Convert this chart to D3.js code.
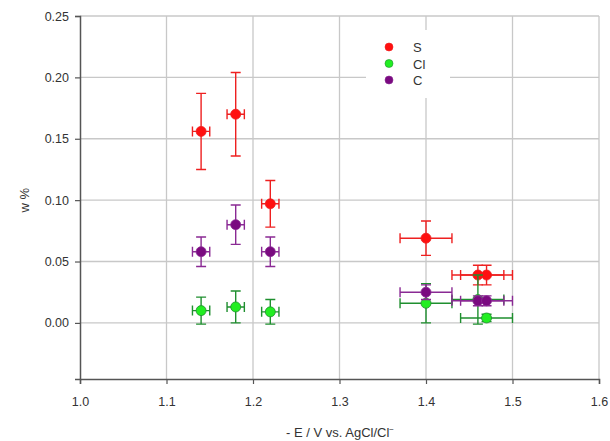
<!DOCTYPE html>
<html lang="en">
<head>
	<meta charset="UTF-8"/>
	<title>w % vs potential</title>
	<script src="https://d3js.org/d3.v7.min.js"></script>
	<style>
		body { margin: 0; background: #fff; }
		text { font-family: "Liberation Sans", Arial, sans-serif; fill: #333; }
	</style>
</head>
<body>
<script>
	// ***Data***
	var seriesNames = ["S", "Cl", "C"];
	var potentialS  = [1.14, 1.18, 1.22, 1.40, 1.46, 1.47];
	var wS          = [0.156, 0.170, 0.097, 0.069, 0.039, 0.039];
	var wErrS       = [0.031, 0.034, 0.019, 0.014, 0.008, 0.008];
	var potentialCl = [1.14, 1.18, 1.22, 1.40, 1.46, 1.47];
	var wCl         = [0.010, 0.013, 0.009, 0.016, 0.019, 0.004];
	var wErrCl      = [0.011, 0.013, 0.010, 0.016, 0.020, 0.003];
	var potentialC  = [1.14, 1.18, 1.22, 1.40, 1.46, 1.47];
	var wC          = [0.058, 0.080, 0.058, 0.025, 0.018, 0.018];
	var wErrC       = [0.012, 0.016, 0.012, 0.006, 0.004, 0.004];
	var eErr        = [0.01, 0.01, 0.01, 0.03, 0.03, 0.03];
	var xTicks = [1.0, 1.1, 1.2, 1.3, 1.4, 1.5, 1.6];
	var yTicks = [0.00, 0.05, 0.10, 0.15, 0.20, 0.25];

	var w = 610, h = 441;
	var padL = 80, padR = 599, padT = 16, padB = 379;
	var colors = {
		S:  {fill: "#ff1010", bar: "#ee2020"},
		Cl: {fill: "#22ee22", bar: "#1f8f2f"},
		C:  {fill: "#7a0a80", bar: "#8a2a94"}
	};

	function build(xs, ys, errs) {
		return xs.map(function(x, i) {
			return {x: x, y: ys[i], ey: errs[i], ex: eErr[i]};
		});
	}
	var series = [
		{name: "S",  points: build(potentialS, wS, wErrS)},
		{name: "Cl", points: build(potentialCl, wCl, wErrCl)},
		{name: "C",  points: build(potentialC, wC, wErrC)}
	];

	var xScale = d3.scaleLinear().domain([1.0, 1.6]).range([padL, padR]);
	var yScale = d3.scaleLinear().domain([-0.0457, 0.25]).range([padB, padT]);

	var svg = d3.select("body").append("svg")
		.attr("width", w).attr("height", h);

	// grid
	svg.append("g").selectAll("line")
		.data(xTicks.slice(1))
		.enter().append("line")
		.attr("x1", d => xScale(d)).attr("x2", d => xScale(d))
		.attr("y1", padT).attr("y2", padB)
		.attr("stroke", "#c8c8c8").attr("stroke-width", 1.3);
	svg.append("g").selectAll("line")
		.data(yTicks)
		.enter().append("line")
		.attr("x1", padL).attr("x2", padR)
		.attr("y1", d => yScale(d)).attr("y2", d => yScale(d))
		.attr("stroke", "#c8c8c8").attr("stroke-width", 1.3);

	// axes
	var xAxis = d3.axisBottom(xScale).tickValues(xTicks)
		.tickFormat(d3.format(".1f")).tickSize(5).tickPadding(13);
	var yAxis = d3.axisLeft(yScale).tickValues(yTicks)
		.tickFormat(d3.format(".2f")).tickSize(5).tickPadding(6);

	var gx = svg.append("g").attr("transform", "translate(0," + padB + ")").call(xAxis);
	var gy = svg.append("g").attr("transform", "translate(" + padL + ",0)").call(yAxis);
	[gx, gy].forEach(function(g) {
		g.select(".domain").attr("stroke", "#555").attr("stroke-width", 1.5);
		g.selectAll(".tick line").attr("stroke", "#555").attr("stroke-width", 1.2);
		g.selectAll(".tick text").style("font-size", "12.5px").attr("fill", "#333");
	});

	// legend box (covers grid)
	svg.append("rect").attr("x", 366).attr("y", 30).attr("width", 84).attr("height", 68)
		.attr("fill", "#fff");

	// error bars and markers
	var cap = 5;
	series.forEach(function(s) {
		var c = colors[s.name];
		var g = svg.append("g");
		s.points.forEach(function(p) {
			var cx = xScale(p.x), cy = yScale(p.y);
			var x0 = xScale(p.x - p.ex), x1 = xScale(p.x + p.ex);
			var y0 = yScale(p.y - p.ey), y1 = yScale(p.y + p.ey);
			var path = "M" + x0 + "," + cy + "H" + x1 +
				"M" + x0 + "," + (cy - cap) + "V" + (cy + cap) +
				"M" + x1 + "," + (cy - cap) + "V" + (cy + cap) +
				"M" + cx + "," + y0 + "V" + y1 +
				"M" + (cx - cap) + "," + y0 + "H" + (cx + cap) +
				"M" + (cx - cap) + "," + y1 + "H" + (cx + cap);
			g.append("path").attr("d", path)
				.attr("stroke", c.bar).attr("stroke-width", 1.4).attr("fill", "none");
		});
		g.selectAll("circle")
			.data(s.points)
			.enter().append("circle")
			.attr("cx", d => xScale(d.x))
			.attr("cy", d => yScale(d.y))
			.attr("r", 5)
			.attr("fill", c.fill)
			.attr("stroke", c.bar).attr("stroke-width", 0.8);
	});

	// legend
	var leg = svg.append("g");
	seriesNames.forEach(function(n, i) {
		leg.append("circle").attr("cx", 389).attr("cy", 47 + i * 16.5).attr("r", 4)
			.attr("fill", colors[n].fill).attr("stroke", colors[n].bar).attr("stroke-width", 0.6);
		leg.append("text").attr("x", 413).attr("y", 52 + i * 16.5)
			.style("font-size", "13px").text(n);
	});

	// axis titles
	svg.append("text")
		.attr("transform", "translate(29," + yScale(0.10) + ") rotate(-90)")
		.attr("text-anchor", "middle")
		.style("font-size", "13px")
		.text("w %");
	var xt = svg.append("text")
		.attr("x", 340).attr("y", 437)
		.attr("text-anchor", "middle")
		.style("font-size", "13px");
	xt.append("tspan").text("- E / V vs. AgCl/Cl");
	xt.append("tspan").attr("dy", -5).style("font-size", "8px").text("\u2212");
</script>
</body>
</html>
